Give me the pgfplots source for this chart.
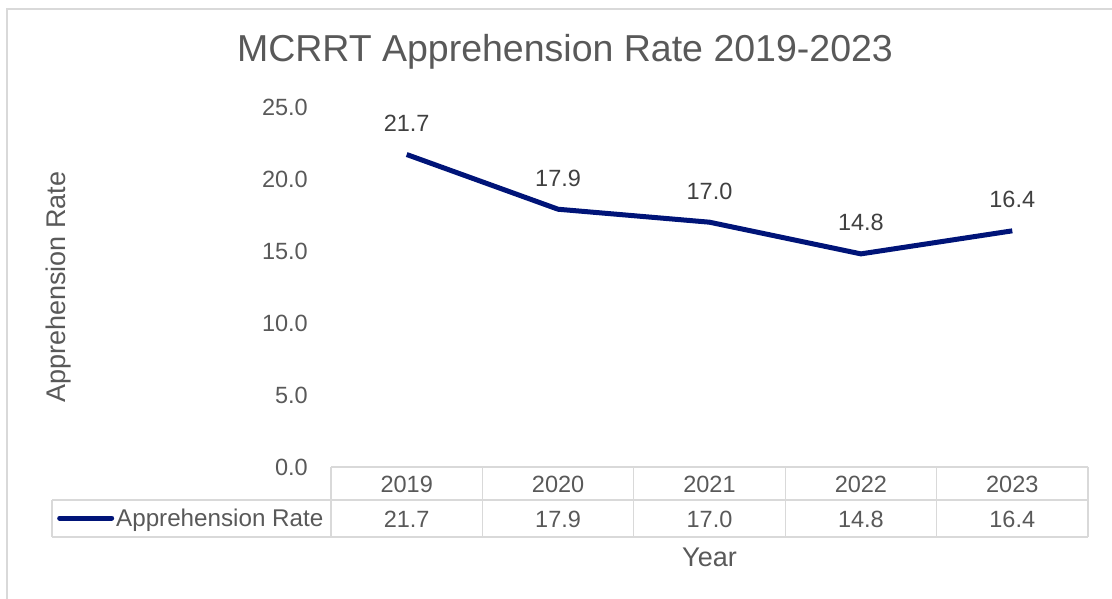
\documentclass[border=0pt]{standalone}
\usepackage{fontspec}
\setmainfont{Liberation Sans}
\usepackage{pgfplots}
\pgfplotsset{compat=1.18}
\definecolor{navyline}{RGB}{0,20,120}
\definecolor{txtgray}{HTML}{595959}
\definecolor{lblgray}{HTML}{404040}
\definecolor{gridgray}{HTML}{D9D9D9}
\begin{document}
\begin{tikzpicture}[x=1pt,y=1pt]
\useasboundingbox (0,0) rectangle (1112,599);
% outer frame (left and top edges visible)
\draw[gridgray, line width=1.5pt] (7,-2) -- (7,590) -- (1114,590);
% data table grid
\draw[gridgray, line width=1.2pt] (331,132) -- (1088,132);
\draw[gridgray, line width=1.2pt] (52,99) -- (1088,99);
\draw[gridgray, line width=1.2pt] (52,62) -- (1088,62);
\draw[gridgray, line width=1.2pt] (52,99) -- (52,62);
\foreach \xx in {331,482.4,633.8,785.2,936.6,1088}{
  \draw[gridgray, line width=1.2pt] (\xx,132) -- (\xx,62);
}
\begin{axis}[
  at={(331pt,132pt)}, anchor=south west,
  scale only axis, width=757pt, height=360pt,
  xmin=-0.5, xmax=4.5, ymin=0, ymax=25,
  clip=false,
  axis line style={draw=none},
  major tick length=0pt,
  /pgf/number format/assume math mode=true,
  xtick={0,1,2,3,4},
  xticklabels={{2019\\21.7},{2020\\17.9},{2021\\17.0},{2022\\14.8},{2023\\16.4}},
  xticklabel style={anchor=center, yshift=-34.5pt, align=center, inner sep=0pt,
    font=\fontsize{23.5}{35}\selectfont, text=txtgray},
  ytick={0,5,10,15,20,25},
  yticklabel={\pgfmathprintnumber[fixed,fixed zerofill,precision=1]{\tick}},
  yticklabel style={anchor=east, inner sep=0pt, xshift=-23pt,
    font=\fontsize{23.5}{27}\selectfont, text=txtgray},
  ylabel={Apprehension Rate},
  ylabel style={at={(axis description cs:-0.3595,0.5)}, anchor=center,
    font=\fontsize{27}{31}\selectfont, text=txtgray},
  xlabel={Year},
  xlabel style={at={(axis description cs:0.5,-0.25)}, anchor=center,
    font=\fontsize{27}{31}\selectfont, text=txtgray},
  title={MCRRT Apprehension Rate 2019-2023},
  title style={at={(axis description cs:0.3091,1.1583)}, anchor=base,
    yshift=-17pt,
    font=\fontsize{37.5}{42}\selectfont, text=txtgray},
  legend style={at={(axis description cs:-0.3620,-0.1417)}, anchor=west,
    draw=none, fill=none, inner sep=0pt, text=txtgray,
    font=\fontsize{24.2}{28}\selectfont,
    nodes={inner sep=2pt}},
  legend image code/.code={\draw[line width=5pt, line cap=round, #1] (0pt,0pt) -- (52pt,0pt);},
  nodes near coords={\pgfmathprintnumber[fixed,fixed zerofill,precision=1]{\pgfplotspointmeta}},
  nodes near coords style={anchor=center, yshift=31pt, inner sep=0pt,
    font=\fontsize{23.5}{27}\selectfont, text=lblgray},
]
\addplot[navyline, line width=5pt, line join=round, mark=none] coordinates {
  (0,21.7) (1,17.9) (2,17.0) (3,14.8) (4,16.4)
};
\addlegendentry{Apprehension Rate}
\end{axis}
\end{tikzpicture}
\end{document}
